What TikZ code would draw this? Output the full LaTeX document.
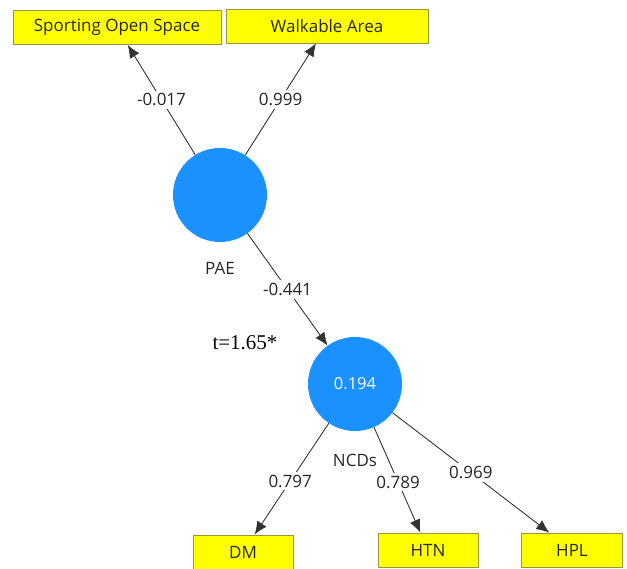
\documentclass[tikz,border=0pt]{standalone}
\usepackage{fontspec}
\setmainfont{Open Sans}
\newfontfamily\timesfont{Liberation Serif}
\usetikzlibrary{arrows.meta,positioning}
\definecolor{lvblue}{RGB}{26,145,255}
\definecolor{mvyellow}{RGB}{255,255,0}
\definecolor{mvedge}{RGB}{150,150,60}
\tikzset{
  latent/.style={circle,fill=lvblue,minimum size=94pt,inner sep=0pt,text=white,font=\fontsize{16.5}{18}\selectfont},
  manifest/.style={rectangle,fill=mvyellow,draw=mvedge,line width=0.8pt,minimum height=34pt,text=black!85,font=\fontsize{17}{19}\selectfont},
  weight/.style={fill=white,inner sep=3pt,text=black!85,font=\fontsize{17}{19}\selectfont},
  lvname/.style={text=black!85,font=\fontsize{17}{19}\selectfont},
  path/.style={draw=black!80,line width=0.9pt,-{Latex[length=13pt,width=11pt]}}
}
\begin{document}
\begin{tikzpicture}[x=1pt,y=-1pt]
        \useasboundingbox (0,0) rectangle (627,569);
        % indicators
        \node[manifest,minimum width=208pt] (sos) at (117,27.5) {Sporting Open Space};
        \node[manifest,minimum width=202pt] (walk) at (327,26) {Walkable Area};
        \node[manifest,minimum width=100pt] (dm) at (243,552) {DM};
        \node[manifest,minimum width=100pt] (htn) at (428,550) {HTN};
        \node[manifest,minimum width=101pt] (hpl) at (572,550) {HPL};
        % constructs
        \node[latent] (pae) at (220,195) {};
        \node[latent] (ncd) at (355,384) {0.194};
        \node[lvname,below=17pt of pae] (paename) {PAE};
        \node[lvname,below=19pt of ncd] (ncdname) {NCDs};
        % paths
        \draw[path] (pae) -- node[weight] (w1) {-0.017} (sos);
        \draw[path] (pae) -- node[weight] (w2) {0.999} (walk);
        \draw[path] (pae) -- node[weight] (w3) {-0.441} (ncd);
        \draw[path] (ncd) -- node[weight,pos=0.52] (w4) {0.797} (dm);
        \draw[path] (ncd) -- node[weight,pos=0.52] (w5) {0.789} (htn);
        \draw[path] (ncd) -- node[weight] (w6) {0.969} (hpl);
        \node[font=\timesfont\fontsize{21}{23}\selectfont] (tval) at (245,343) {t=1.65*};
\end{tikzpicture}
\end{document}
